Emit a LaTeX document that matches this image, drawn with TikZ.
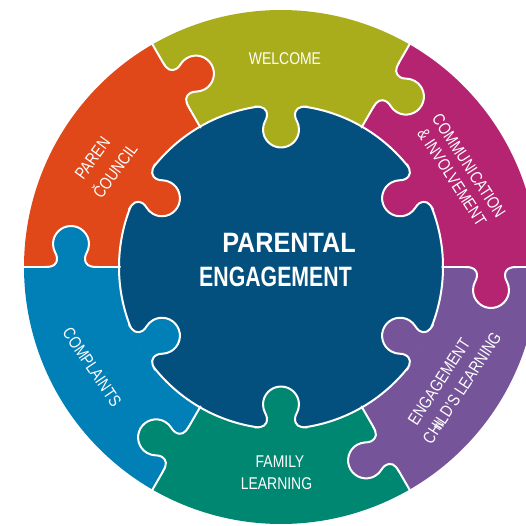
\documentclass[tikz,border=0pt]{standalone}
\usepackage{fontspec}
\setmainfont{Liberation Sans}
\usepackage{graphicx}
\definecolor{cWel}{HTML}{A9AD1C}
\definecolor{cComm}{HTML}{B42471}
\definecolor{cEng}{HTML}{765499}
\definecolor{cFam}{HTML}{008771}
\definecolor{cComp}{HTML}{0180B8}
\definecolor{cCoun}{HTML}{E0481A}
\definecolor{cCent}{HTML}{034F7E}
\newcommand\nar[1]{\scalebox{0.82}[1]{#1}}
\tikzset{
  wline/.style={draw=white, line width=2pt, line join=round, line cap=round},
  lbl/.style={text=white, inner sep=0pt, font=\fontsize{17}{17}\selectfont},
  big/.style={text=white, inner sep=0pt, font=\bfseries\fontsize{28}{28}\selectfont},
  pics/knob/.style={code={
    \fill[#1] (-26,-3) -- (-26,0) .. controls (-18,0) and (-14,2) .. (-14,9)
      .. controls (-14,13) and (-18,16) .. (-18,23)
      arc[start angle=180,end angle=0,radius=18]
      .. controls (18,16) and (14,13) .. (14,9)
      .. controls (14,2) and (18,0) .. (26,0) -- (26,-3) -- cycle;
    \draw[wline] (-26,0) .. controls (-18,0) and (-14,2) .. (-14,9)
      .. controls (-14,13) and (-18,16) .. (-18,23)
      arc[start angle=180,end angle=0,radius=18]
      .. controls (18,16) and (14,13) .. (14,9)
      .. controls (14,2) and (18,0) .. (26,0);
  }}
}
\begin{document}
\begin{tikzpicture}[x=1pt,y=1pt]
\useasboundingbox (0,0) rectangle (526,525);
\clip (0,0) rectangle (526,525);
\begin{scope}[shift={(281,258)}]
  \foreach \a/\c in {0/cComm,60/cWel,120/cCoun,180/cComp,240/cFam,300/cEng}{
    \fill[\c] (0,0) -- (\a:257) arc[start angle=\a,end angle=\a+60,radius=257] -- cycle;
  }
  \fill[cCent] (0,0) circle[radius=162];
  \foreach \a in {0,60,...,300}{
    \draw[wline] (\a:161) -- (\a:262);
  }
  \draw[wline] (0,0) circle[radius=162];
  \foreach \a/\c in {0/cComm,60/cWel,120/cCoun,180/cComp,240/cFam,300/cEng}{
    \pic[rotate=\a, yscale=-1] at (\a:210) {knob=\c};
    \pic[rotate=\a+120] at (\a+30:160.5) {knob=\c};
  }
\end{scope}
\node[lbl] (welcome) at (285,466) {\nar{WELCOME}};
\node[big] (pe1) at (289,282) {\scalebox{0.9}[1]{PARENTAL}};
\node[big] (pe2) at (275.5,248) {\scalebox{0.76}[1]{ENGAGEMENT}};
\node[lbl] (fam1) at (280,63.5) {\nar{FAMILY}};
\node[lbl] (fam2) at (276.5,41) {\nar{LEARNING}};
\node[lbl, rotate=-56] (comp) at (92,158) {\nar{COMPLAINTS}};
\node[lbl, rotate=54] (coun1) at (92.5,366.7) {\nar{PAREN}};
\node[lbl, rotate=54] (coun2) at (114,355) {\nar{ČOUNCIL}};
\node[lbl, rotate=-57] (comm1) at (469,359) {\nar{COMMUNICATION}};
\node[lbl, rotate=-57] (comm2) at (452,348) {\nar{\& INVOLVEMENT}};
\node[lbl, rotate=57] (eng1) at (439,143) {\nar{ENGAGEMENT}};
\node[lbl, rotate=57] (eng2) at (462,137) {\nar{CHILD'S LEARNING}};
\node[lbl, rotate=57, font=\fontsize{11}{11}\selectfont] (eng3) at (439,99) {\nar{IN}};
\end{tikzpicture}
\end{document}
